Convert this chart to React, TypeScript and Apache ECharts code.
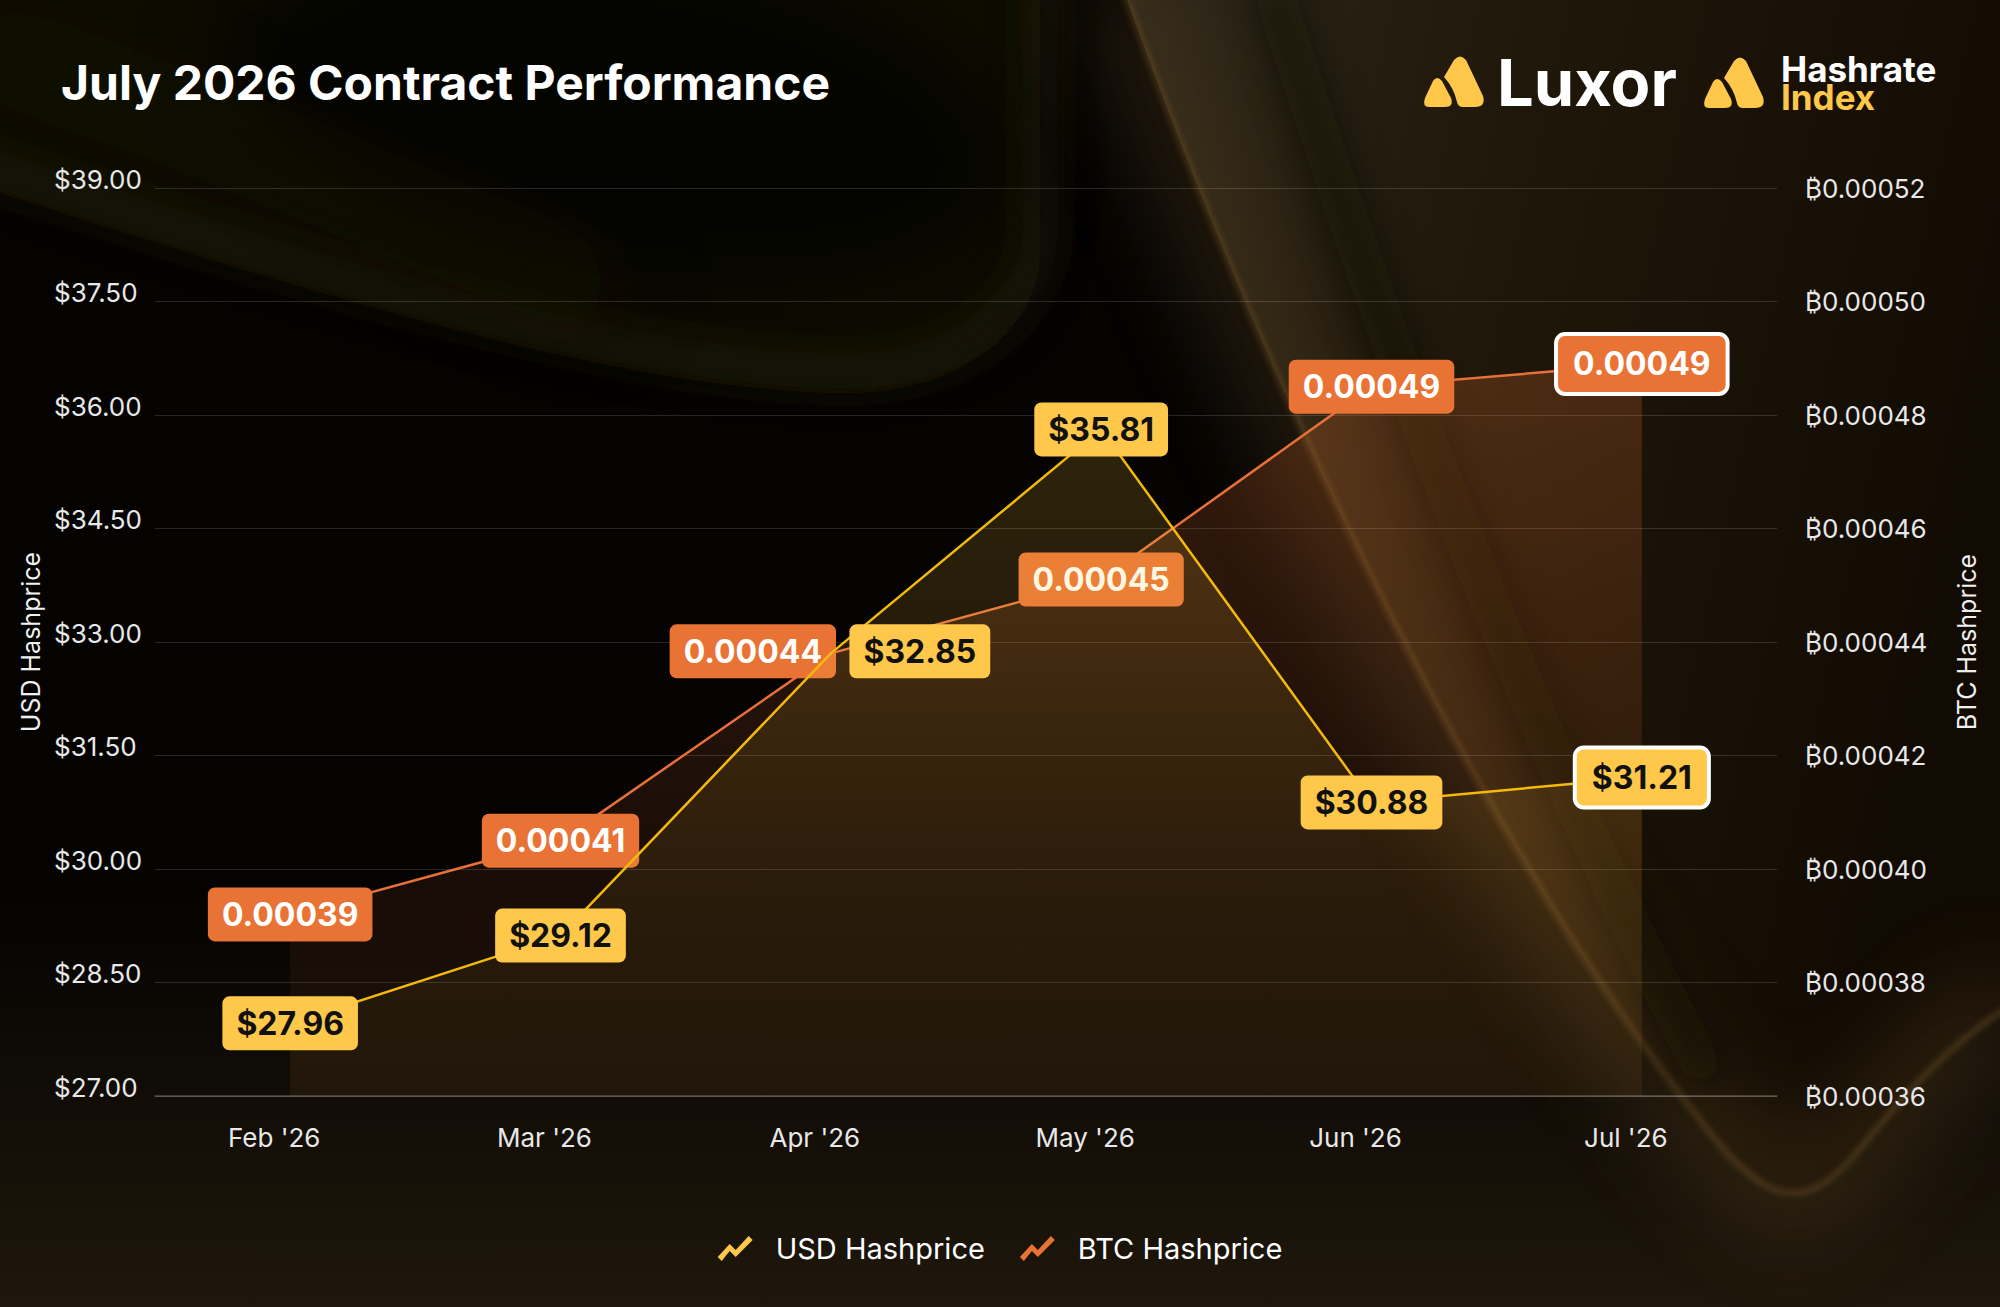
import { useEffect, useRef } from 'react';
import * as echarts from 'echarts';

// chart values
const months = ["Feb '26", "Mar '26", "Apr '26", "May '26", "Jun '26", "Jul '26"];
const usdHashprice = [27.96, 29.12, 32.85, 35.81, 30.88, 31.21];
const btcHashprice = [0.000392, 0.000405, 0.000438, 0.000451, 0.000485, 0.000489];

const usdMin = 27;
const usdMax = 39;
const usdStep = 1.5;
const btcMin = 0.00036;
const btcMax = 0.00052;
const btcStep = 0.00002;

// label nudges (Apr labels are pushed apart so they don't overlap)
const usdLabelOffsets = [[0, 0], [0, 0], [89, -2], [0, 0], [0, 0], [0, 0]];
const btcLabelOffsets = [[0, 0], [0, 0], [-78, -2], [0, 0], [0, 0], [0, 0]];

const FONT = "Inter, 'Noto Sans', 'DejaVu Sans', sans-serif";
const YELLOW = '#FFC84A';
const YELLOW_LINE = '#F5B90A';
const ORANGE = '#E87335';
const ORANGE_LINE = '#E8703A';

const markPath =
    'M31 4 Q37 -3 43 4 L60 40 Q63 51 52 51 L40 51 Q35 51 34 46 Q31 32 21 21 Z ' +
    'M10 25 Q14 19 19 25 L28 42 Q31 51 22 51 L6 51 Q-1 51 2 42 Z';

const legendIcon = 'path://M0 21 L12 8 L18 14 L31 0 L35 4 L18 21 L12 15 L4 25 Z';

const curve = 'M1120,-20 C1240,320 1460,820 1700,1120 C1760,1200 1800,1215 1850,1160 C1900,1100 1950,1040 2020,1000';
const blobEdge = 'M-40,180 C300,290 600,385 830,393 C960,398 1040,330 1040,250 L1040,-40';

const bgSvg = `<svg xmlns='http://www.w3.org/2000/svg' width='2000' height='1307' viewBox='0 0 2000 1307'>
<defs>
<filter id='soft' x='-50%' y='-50%' width='200%' height='200%'><feGaussianBlur stdDeviation='45'/></filter>
<filter id='mid' x='-50%' y='-50%' width='200%' height='200%'><feGaussianBlur stdDeviation='18'/></filter>
<filter id='edge' x='-50%' y='-50%' width='200%' height='200%'><feGaussianBlur stdDeviation='5'/></filter>
<filter id='thin' x='-50%' y='-50%' width='200%' height='200%'><feGaussianBlur stdDeviation='3'/></filter>
<linearGradient id='sw' x1='0' y1='0' x2='1' y2='0.3'>
<stop offset='0' stop-color='#2e281b'/><stop offset='0.45' stop-color='#1f1709'/><stop offset='1' stop-color='#120b03'/>
</linearGradient>
<linearGradient id='bot' x1='0' y1='0' x2='0' y2='1'>
<stop offset='0' stop-color='#1d150a' stop-opacity='0'/><stop offset='1' stop-color='#1f170b' stop-opacity='1'/>
</linearGradient>
</defs>
<rect width='2000' height='1307' fill='#040302'/>
<rect x='0' y='880' width='2000' height='427' fill='url(#bot)'/>
<path d='${blobEdge} L-40,-40 Z' fill='#110d06' filter='url(#edge)'/>
<path d='${blobEdge}' fill='none' stroke='#241b0b' stroke-width='36' opacity='0.6' filter='url(#mid)' transform='translate(0,-22)'/>
<ellipse cx='620' cy='110' rx='400' ry='170' transform='rotate(10 620 110)' fill='#030202' opacity='0.6' filter='url(#soft)'/>
<path d='M-40,40 C200,120 400,210 620,300' fill='none' stroke='#1e170b' stroke-width='50' opacity='0.5' filter='url(#soft)'/>
<path d='${curve} L2020,-20 Z' fill='url(#sw)'/>
<path d='${curve}' fill='none' stroke='#5a4320' stroke-width='70' opacity='0.45' filter='url(#soft)'/>
<path d='${curve}' fill='none' stroke='#7a5c2c' stroke-width='4' opacity='0.6' filter='url(#thin)'/>
<path d='M1270,-20 C1370,300 1530,750 1710,1080' stroke='#0b0703' stroke-width='40' opacity='0.5' filter='url(#mid)' fill='none'/>
</svg>`;

const bgUrl = `data:image/svg+xml;charset=utf-8,${encodeURIComponent(bgSvg)}`;

const baseLabel = {
    show: true,
    position: 'inside',
    fontFamily: FONT,
    fontSize: 32,
    fontWeight: 'bold',
    lineHeight: 32,
    padding: [11, 14],
    borderRadius: 7,
};

const lastLabel = { borderColor: '#ffffff', borderWidth: 4, padding: [12, 15] };

export default function App() {
    const chartRef = useRef<HTMLDivElement>(null);

    useEffect(() => {
        document.body.style.margin = '0';
        if (!chartRef.current) return;

        echarts.graphic.registerShape('luxorMark', echarts.graphic.extendPath(markPath, {}));
        const chart = echarts.init(chartRef.current, null, { renderer: 'svg' });

        const usdData = usdHashprice.map((v, i) => ({
            value: v,
            label: { offset: usdLabelOffsets[i], ...(i === usdHashprice.length - 1 ? lastLabel : {}) },
        }));
        const btcData = btcHashprice.map((v, i) => ({
            value: v,
            label: { offset: btcLabelOffsets[i], ...(i === btcHashprice.length - 1 ? lastLabel : {}) },
        }));

        const option: any = {
            animation: false,
            backgroundColor: 'transparent',
            textStyle: { fontFamily: FONT },
            graphic: [
                {
                    type: 'text',
                    x: 61,
                    y: 82,
                    style: {
                        text: 'July 2026 Contract Performance',
                        fill: '#ffffff',
                        fontSize: 48,
                        fontWeight: 'bold',
                        fontFamily: FONT,
                        verticalAlign: 'middle',
                    },
                },
                { type: 'luxorMark', x: 1423, y: 56, style: { fill: YELLOW } },
                {
                    type: 'text',
                    x: 1497,
                    y: 82,
                    style: {
                        text: 'Luxor',
                        fill: '#ffffff',
                        fontSize: 65,
                        fontWeight: 'bold',
                        fontFamily: FONT,
                        verticalAlign: 'middle',
                    },
                },
                { type: 'luxorMark', x: 1703, y: 57, style: { fill: YELLOW } },
                {
                    type: 'text',
                    x: 1781,
                    y: 83,
                    style: {
                        text: '{a|Hashrate}\n{b|Index}',
                        fontFamily: FONT,
                        verticalAlign: 'middle',
                        rich: {
                            a: { fill: '#ffffff', fontSize: 35, fontWeight: 'bold', fontFamily: FONT, lineHeight: 28 },
                            b: { fill: YELLOW, fontSize: 35, fontWeight: 'bold', fontFamily: FONT, lineHeight: 28 },
                        },
                    },
                },
            ],
            legend: {
                left: 'center',
                top: 1229,
                itemWidth: 35,
                itemHeight: 25,
                itemGap: 35,
                icon: legendIcon,
                textStyle: { color: '#ffffff', fontSize: 29, fontFamily: FONT, padding: [0, 0, 0, 18] },
                data: ['USD Hashprice', 'BTC Hashprice'],
            },
            grid: { left: 155, right: 223, top: 188, bottom: 211, outerBoundsMode: 'none' },
            xAxis: {
                type: 'category',
                data: months,
                boundaryGap: true,
                axisTick: { show: false },
                axisLine: { show: true, lineStyle: { color: 'rgba(255,255,255,0.25)', width: 1.5 } },
                axisLabel: {
                    color: '#e8e8e8',
                    fontSize: 26,
                    fontFamily: FONT,
                    margin: 28,
                    padding: [0, 32, 0, 0],
                },
            },
            yAxis: [
                {
                    type: 'value',
                    position: 'left',
                    min: usdMin,
                    max: usdMax,
                    interval: usdStep,
                    name: 'USD Hashprice',
                    nameLocation: 'middle',
                    nameRotate: 90,
                    nameGap: 95,
                    nameTextStyle: { color: '#f0f0f0', fontSize: 25, fontFamily: FONT },
                    axisLine: { show: false },
                    axisTick: { show: false },
                    axisLabel: {
                        color: '#e8e8e8',
                        fontSize: 26,
                        fontFamily: FONT,
                        margin: 101,
                        align: 'left',
                        verticalAlign: 'bottom',
                        lineHeight: 18,
                        formatter: (v: number) => '$' + v.toFixed(2),
                    },
                    splitLine: { lineStyle: { color: 'rgba(255,255,255,0.14)', width: 1.2 } },
                },
                {
                    type: 'value',
                    position: 'right',
                    min: btcMin,
                    max: btcMax,
                    interval: btcStep,
                    name: 'BTC Hashprice',
                    nameLocation: 'middle',
                    nameRotate: 90,
                    nameGap: 177,
                    nameTextStyle: { color: '#f0f0f0', fontSize: 25, fontFamily: FONT },
                    axisLine: { show: false },
                    axisTick: { show: false },
                    axisLabel: {
                        color: '#e8e8e8',
                        fontSize: 26,
                        fontFamily: FONT,
                        margin: 28,
                        formatter: (v: number) => '\u20BF' + v.toFixed(5),
                    },
                    splitLine: { show: false },
                },
            ],
            series: [
                {
                    name: 'USD Hashprice',
                    type: 'line',
                    yAxisIndex: 0,
                    data: usdData,
                    symbol: 'circle',
                    symbolSize: 1,
                    itemStyle: { color: YELLOW },
                    lineStyle: { color: YELLOW_LINE, width: 2.5 },
                    areaStyle: {
                        origin: 'start',
                        color: new echarts.graphic.LinearGradient(0, 0, 0, 1, [
                            { offset: 0, color: 'rgba(255,200,60,0.24)' },
                            { offset: 1, color: 'rgba(255,200,60,0.05)' },
                        ]),
                    },
                    label: {
                        ...baseLabel,
                        color: '#111111',
                        backgroundColor: YELLOW,
                        formatter: (p: any) => '$' + p.value.toFixed(2),
                    },
                    z: 3,
                },
                {
                    name: 'BTC Hashprice',
                    type: 'line',
                    yAxisIndex: 1,
                    data: btcData,
                    symbol: 'circle',
                    symbolSize: 1,
                    itemStyle: { color: ORANGE },
                    lineStyle: { color: ORANGE_LINE, width: 2.5 },
                    areaStyle: {
                        origin: 'start',
                        color: new echarts.graphic.LinearGradient(0, 0, 0, 1, [
                            { offset: 0, color: 'rgba(232,114,52,0.32)' },
                            { offset: 1, color: 'rgba(232,114,52,0.05)' },
                        ]),
                    },
                    label: {
                        ...baseLabel,
                        color: '#ffffff',
                        backgroundColor: ORANGE,
                        formatter: (p: any) => (Math.round(p.value * 1e5 + 1e-6) / 1e5).toFixed(5),
                    },
                    z: 2,
                },
            ],
        };

        chart.setOption(option);

        return () => {
            chart.dispose();
        };
    }, []);

    return (
        <div
            style={{
                position: 'absolute',
                left: 0,
                top: 0,
                width: 2000,
                height: 1307,
                backgroundColor: '#040302',
                backgroundImage: `url("${bgUrl}")`,
                backgroundSize: '2000px 1307px',
            }}
        >
            <div ref={chartRef} style={{ width: 2000, height: 1307 }} />
        </div>
    );
}
